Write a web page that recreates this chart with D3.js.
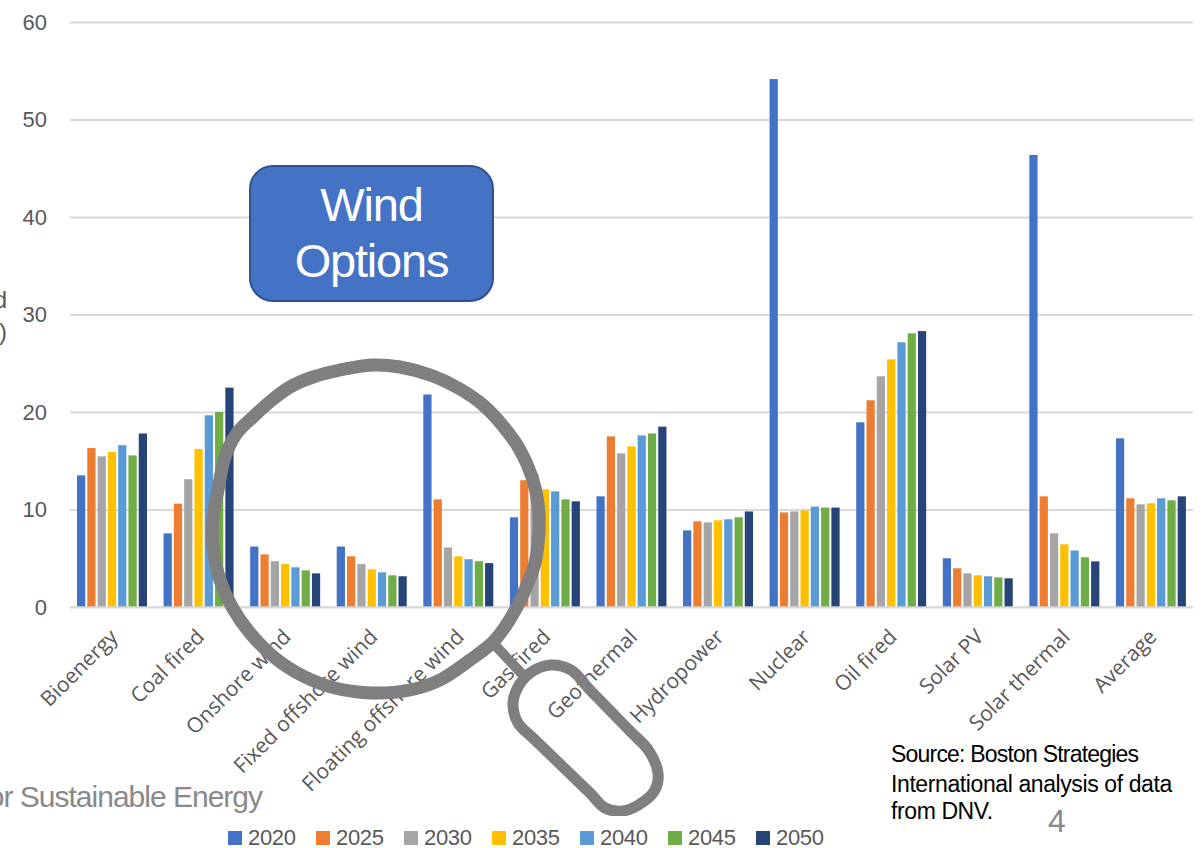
<!DOCTYPE html>
<html>
<head>
<meta charset="utf-8">
<script src="https://cdn.jsdelivr.net/npm/d3@7/dist/d3.min.js"></script>
<style>
  html, body { margin: 0; padding: 0; background: #fff; }
  svg { display: block; }
  text { font-family: "Liberation Sans", Arial, sans-serif; }
  .category-label text { font-family: "Open Sans", sans-serif; }
</style>
</head>
<body>
<svg id="chart" width="1203" height="848"></svg>
<script>
const categories = ["Bioenergy", "Coal fired", "Onshore wind", "Fixed offshore wind", "Floating offshore wind",
  "Gas fired", "Geothermal", "Hydropower", "Nuclear", "Oil fired", "Solar PV", "Solar thermal", "Average"];
const years = ["2020", "2025", "2030", "2035", "2040", "2045", "2050"];
const yearColors = ["#4472C4", "#ED7D31", "#A5A5A5", "#FFC000", "#5B9BD5", "#70AD47", "#264478"];

const bioenergy = [13.5, 16.3, 15.45, 15.9, 16.6, 15.55, 17.8];
const coalFired = [7.55, 10.6, 13.1, 16.2, 19.66, 20.0, 22.5];
const onshoreWind = [6.2, 5.4, 4.7, 4.4, 4.07, 3.76, 3.45];
const fixedOffshoreWind = [6.2, 5.2, 4.4, 3.86, 3.56, 3.25, 3.15];
const floatingOffshoreWind = [21.8, 11.04, 6.1, 5.2, 4.9, 4.7, 4.5];
const gasFired = [9.2, 13.0, 13.6, 12.07, 11.86, 11.04, 10.84];
const geothermal = [11.35, 17.5, 15.76, 16.48, 17.6, 17.8, 18.5];
const hydropower = [7.86, 8.79, 8.68, 8.89, 9.0, 9.2, 9.8];
const nuclear = [54.15, 9.7, 9.8, 9.9, 10.3, 10.2, 10.2];
const oilFired = [18.94, 21.2, 23.66, 25.4, 27.15, 28.07, 28.3];
const solarPV = [5.0, 3.97, 3.45, 3.25, 3.15, 3.04, 2.94];
const solarThermal = [46.36, 11.35, 7.56, 6.43, 5.8, 5.1, 4.68];
const average = [17.3, 11.15, 10.53, 10.63, 11.15, 10.94, 11.35];
const seriesByCategory = [bioenergy, coalFired, onshoreWind, fixedOffshoreWind, floatingOffshoreWind,
  gasFired, geothermal, hydropower, nuclear, oilFired, solarPV, solarThermal, average];
const yTicks = [0, 10, 20, 30, 40, 50, 60];
const sourceLines = ["Source: Boston Strategies", "International analysis of data", "from DNV."];

const svg = d3.select("#chart");
const grey = "#595959";

const x = d3.scaleBand().domain(categories).range([68.5, 1194]);
const xYear = d3.scaleBand().domain(years).range([8.5, 78.5]).paddingInner(0.2);
const y = d3.scaleLinear().domain([0, 60]).range([607, 22]);

// Horizontal gridlines and value labels
const yAxis = svg.append("g").attr("transform", "translate(70,0)")
  .call(d3.axisLeft(y).tickValues(yTicks).tickSize(-1123).tickPadding(23));
yAxis.select(".domain").remove();
yAxis.selectAll(".tick line").attr("stroke", "#d9d9d9").attr("stroke-width", 2);
yAxis.selectAll(".tick text").attr("fill", grey).attr("font-size", 22);

// Clustered bars, one group per technology
const groups = svg.append("g").selectAll("g").data(categories).join("g")
  .attr("transform", d => `translate(${x(d)},0)`);
groups.selectAll("rect")
  .data((d, i) => seriesByCategory[i].map((v, j) => ({ year: years[j], value: v, color: yearColors[j] })))
  .join("rect")
  .attr("x", d => xYear(d.year))
  .attr("width", xYear.bandwidth())
  .attr("y", d => y(d.value))
  .attr("height", d => y(0) - y(d.value))
  .attr("fill", d => d.color);

// Baseline sits over the feet of the bars
svg.append("line").attr("x1", 70).attr("x2", 1193).attr("y1", y(0)).attr("y2", y(0))
  .attr("stroke", "#d9d9d9").attr("stroke-width", 2).attr("stroke-opacity", 0.7);

// Slanted technology labels
const xAxis = svg.append("g").attr("class", "category-label").attr("transform", "translate(0,633)")
  .call(d3.axisBottom(x).tickSize(0).tickPadding(0));
xAxis.select(".domain").remove();
xAxis.selectAll(".tick text")
  .attr("fill", grey)
  .attr("font-size", 21)
  .attr("text-anchor", "end")
  .attr("dy", "0.35em")
  .attr("transform", "translate(2,0) rotate(-45)");

// Callout box
const callout = svg.append("g");
callout.append("rect").attr("x", 250).attr("y", 166).attr("width", 243).attr("height", 135)
  .attr("rx", 23).attr("fill", "#4472C4").attr("stroke", "#2F528F").attr("stroke-width", 2);
callout.selectAll("text").data([["Wind", 221], ["Options", 277]]).join("text")
  .attr("x", 371.5).attr("y", d => d[1]).attr("text-anchor", "middle")
  .attr("fill", "#fff").attr("font-size", 47).attr("letter-spacing", -1.2).text(d => d[0]);

// Magnifying glass drawn over the wind technologies
const ringOutline = [[372,365],[400,367],[433,376],[460,389],[483,405],[503,426],[520,450],[532,477],[538,503],
  [539,530],[535,563],[527,585],[517,607],[495,640],[470,660],[440,680],[410,690],[372,693],[335,688],[303,676],
  [275,658],[250,633],[232,607],[219,577],[213,547],[213,517],[218,490],[225,457],[237,433],[253,417],[272,400],
  [290,387],[313,377],[340,370]];
const handleOutline = [[550,665],[571,670],[590,690],[630,731],[649,751],[658,773],[655,790],[643,802],[623,811],
  [605,808],[590,793],[533,738],[518,723],[513,703],[518,687],[530,673]];
const closed = d3.line().curve(d3.curveCatmullRomClosed.alpha(0.5));
svg.append("clipPath").attr("id", "lens-clip").append("rect")
  .attr("x", 0).attr("y", 0).attr("width", 1203).attr("height", 816);
const lens = svg.append("g").attr("fill", "none").attr("stroke", "#7f7f7f").attr("clip-path", "url(#lens-clip)");
lens.append("line").attr("x1", 493).attr("y1", 643).attr("x2", 522).attr("y2", 674).attr("stroke-width", 10);
lens.append("path").attr("d", closed(ringOutline)).attr("stroke-width", 13);
lens.append("path").attr("d", closed(handleOutline)).attr("stroke-width", 11);

// Legend row along the bottom
const legend = svg.append("g").selectAll("g").data(years).join("g")
  .attr("transform", (d, i) => `translate(${228 + i * 88},831)`);
legend.append("rect").attr("width", 14).attr("height", 14).attr("fill", (d, i) => yearColors[i]);
legend.append("text").attr("x", 20).attr("y", 14).attr("font-size", 22).attr("letter-spacing", -0.3)
  .attr("fill", grey).text(d => d);

// Slide text around the chart
svg.append("text").attr("x", 262).attr("y", 807).attr("text-anchor", "end").attr("font-size", 30)
  .attr("letter-spacing", -1).attr("fill", "#898989").text("for Sustainable Energy");
svg.selectAll(".axis-title").data([["d", 308], [")", 340]]).join("text").attr("class", "axis-title")
  .attr("x", 7).attr("y", d => d[1]).attr("text-anchor", "end").attr("font-size", 24)
  .attr("fill", grey).text(d => d[0]);
svg.selectAll(".source").data(sourceLines).join("text").attr("class", "source")
  .attr("x", 891).attr("y", (d, i) => [762, 792, 819][i]).attr("font-size", 23)
  .attr("letter-spacing", (d, i) => i === 0 ? -0.8 : -0.4).attr("fill", "#000").text(d => d);
svg.append("text").attr("x", 1048).attr("y", 832).attr("font-size", 32).attr("fill", "#898989").text("4");
</script>
</body>
</html>
